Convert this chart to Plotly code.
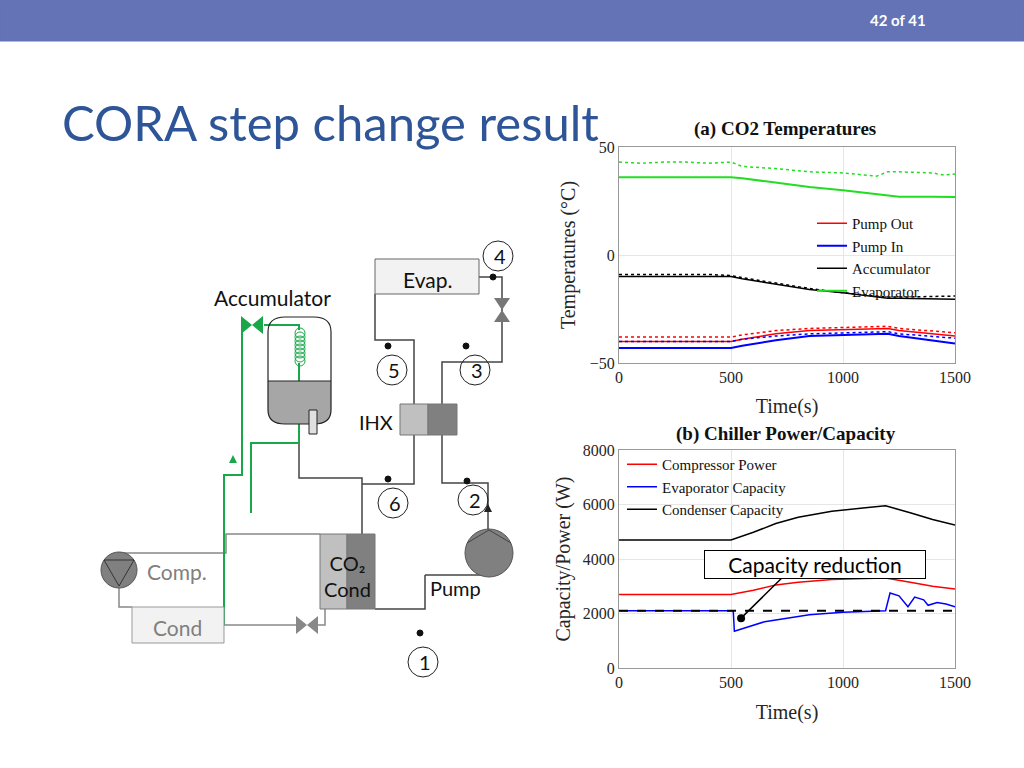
import plotly.graph_objects as go

W, H = 1024, 768

# ---- data ----
t_a = [0, 100, 200, 300, 400, 500, 550, 700, 850, 1000, 1150, 1200, 1250, 1400, 1450, 1500]
evap_sim = [36, 36, 36, 36, 36, 36, 35.5, 33.5, 31.5, 30, 28, 27.5, 27, 27, 27, 26.8]
evap_exp = [43, 42.5, 43, 43, 42.5, 43, 41, 40, 38.5, 38, 36.5, 38.5, 38.5, 38, 37, 37.5]
acc_sim = [-10, -10, -10, -10, -10, -10, -11, -13.5, -16, -17.5, -19.5, -20, -20, -20.3, -20.3, -20.5]
acc_exp = [-9, -9, -9, -9, -9, -9.5, -10.5, -13, -15.5, -17.5, -19, -19.5, -19.5, -19.2, -19, -19]
pout_sim = [-40, -40, -40, -40, -40, -40, -39, -36.5, -35, -34.5, -34, -34, -35, -36.5, -37, -37.5]
pout_exp = [-38, -38, -38, -38, -38, -38, -37, -35, -34, -33.5, -33, -33, -34, -35, -35.5, -36]
pin_sim = [-43, -43, -43, -43, -43, -43, -42, -39.5, -37.5, -37, -36.5, -36.5, -37.5, -39.5, -40, -41]
pin_exp = [-40, -40, -40, -40, -40, -40, -39, -37.5, -36.5, -36, -35.5, -35.5, -36.5, -37.5, -38, -38.5]

t_b = [0, 500, 600, 700, 800, 950, 1100, 1190, 1300, 1400, 1500]
cond_cap = [4700, 4700, 4980, 5300, 5530, 5750, 5880, 5950, 5700, 5450, 5250]
comp_pow = [2700, 2700, 2850, 3050, 3150, 3250, 3280, 3300, 3150, 3000, 2900]
t_e = [0, 510, 515, 650, 850, 1000, 1190, 1210, 1250, 1290, 1320, 1360, 1380, 1420, 1460, 1500]
evap_cap = [2100, 2100, 1350, 1700, 1950, 2050, 2100, 2750, 2650, 2250, 2600, 2500, 2300, 2400, 2350, 2250]
ref_cap = [2100, 2100]
t_ref = [0, 1500]

fig = go.Figure()

# (a) temperatures
fig.add_trace(go.Scatter(x=t_a, y=pout_sim, name='Pump Out', mode='lines', line=dict(color='red', width=1.5)))
fig.add_trace(go.Scatter(x=t_a, y=pin_sim, name='Pump In', mode='lines', line=dict(color='blue', width=2)))
fig.add_trace(go.Scatter(x=t_a, y=acc_sim, name='Accumulator', mode='lines', line=dict(color='black', width=1.5)))
fig.add_trace(go.Scatter(x=t_a, y=evap_sim, name='Evaporator', mode='lines', line=dict(color='#22dd22', width=2)))
for ys, c in [(pout_exp, 'red'), (pin_exp, 'blue'), (acc_exp, 'black'), (evap_exp, '#22dd22')]:
    fig.add_trace(go.Scatter(x=t_a, y=ys, showlegend=False, mode='lines',
                             line=dict(color=c, width=1.5, dash='dot')))

# (b) power / capacity
fig.add_trace(go.Scatter(x=t_b, y=comp_pow, name='Compressor Power', legend='legend2', mode='lines',
                         xaxis='x2', yaxis='y2', line=dict(color='red', width=1.5)))
fig.add_trace(go.Scatter(x=t_e, y=evap_cap, name='Evaporator Capacity', legend='legend2', mode='lines',
                         xaxis='x2', yaxis='y2', line=dict(color='blue', width=1.5)))
fig.add_trace(go.Scatter(x=t_b, y=cond_cap, name='Condenser Capacity', legend='legend2', mode='lines',
                         xaxis='x2', yaxis='y2', line=dict(color='black', width=1.5)))
fig.add_trace(go.Scatter(x=t_ref, y=ref_cap, showlegend=False, xaxis='x2', yaxis='y2', mode='lines',
                         line=dict(color='black', width=2, dash='dash')))
fig.add_trace(go.Scatter(x=[545], y=[1830], mode='markers', showlegend=False, xaxis='x2', yaxis='y2',
                         marker=dict(color='black', size=8)))


def px(x):
    return x / W


def py(y):
    return 1 - y / H


serif = 'Liberation Serif'
axis_common = dict(showgrid=True, gridcolor='#e6e6e6', zeroline=False, showline=True, mirror=True,
                   linecolor='#999999', ticks='', automargin=False,
                   tickfont=dict(family=serif, size=16, color='#262626'))

shapes = []
annots = []


def line(pts, color='#444', width=1.5):
    d = 'M ' + ' L '.join(f'{px(x)},{py(y)}' for x, y in pts)
    shapes.append(dict(type='path', xref='paper', yref='paper', path=d, line=dict(color=color, width=width)))


def rect(x0, y0, x1, y1, fill, border='#777', width=1):
    shapes.append(dict(type='rect', xref='paper', yref='paper', x0=px(x0), x1=px(x1), y0=py(y1), y1=py(y0),
                       fillcolor=fill, line=dict(color=border, width=width)))


def circle(cx, cy, r, fill='rgba(0,0,0,0)', border='#222', width=1):
    shapes.append(dict(type='circle', xref='paper', yref='paper', x0=px(cx - r), x1=px(cx + r),
                       y0=py(cy + r), y1=py(cy - r), fillcolor=fill, line=dict(color=border, width=width)))


def poly(pts, fill):
    d = 'M ' + ' L '.join(f'{px(x)},{py(y)}' for x, y in pts) + ' Z'
    shapes.append(dict(type='path', xref='paper', yref='paper', path=d, fillcolor=fill, line=dict(width=0)))


def text(x, y, s, size=20, color='#111', family='Lato', **kw):
    annots.append(dict(xref='paper', yref='paper', x=px(x), y=py(y), text=s, showarrow=False,
                       xanchor=kw.pop('xanchor', 'center'), yanchor='middle',
                       font=dict(family=family, size=size, color=color), **kw))


# header bar
rect(0, 0, 1024, 41, '#6373b6', border='#6373b6')
text(898, 20, '<b>42 of 41</b>', size=15, color='white')
text(60, 122, 'CORA step change result', size=49, color='#2e5597', xanchor='left')

# black loop
line([(375, 294), (375, 340), (414, 340), (414, 404)])
line([(479, 277), (502, 277), (502, 362), (442, 362), (442, 404)])
line([(414, 435), (414, 484), (362, 484)])
line([(299, 425), (299, 478), (362, 478), (362, 534)])
line([(442, 435), (442, 483), (488, 483), (488, 530)])
line([(425, 575), (489, 575)])
line([(425, 575), (425, 609), (375, 609)])
poly([(484, 512), (492, 512), (488, 504)], '#222')
poly([(494, 298), (510, 298), (502, 310)], '#777')
poly([(494, 322), (510, 322), (502, 310)], '#777')

# gray loop
g = '#888'
line([(119, 553), (226, 553), (226, 534), (320, 534)], g)
line([(119, 588), (119, 607), (132, 607)], g)
line([(224, 625), (298, 625)], g)
line([(316, 625), (325, 625), (325, 609)], g)
poly([(296, 616), (296, 634), (307, 625)], g)
poly([(318, 616), (318, 634), (307, 625)], g)

# green loop
gr = '#1aa74a'
line([(299, 363), (299, 443), (251, 443), (251, 513)], gr, 2)
line([(299, 330), (299, 325), (264, 325)], gr, 2)
line([(242, 325), (242, 475), (224, 475), (224, 625)], gr, 2)
poly([(241, 316), (241, 334), (252, 325)], gr)
poly([(263, 316), (263, 334), (252, 325)], gr)
poly([(229, 463), (237, 463), (233, 455)], gr)
for k in range(8):
    circle(300, 333 + 4 * k, 5, border=gr, width=1)

# accumulator vessel
shapes.append(dict(type='path', xref='paper', yref='paper',
                   path=f'M {px(268)},{py(381)} L {px(268)},{py(410)} Q {px(268)},{py(424)} {px(285)},{py(424)} '
                        f'L {px(314)},{py(424)} Q {px(331)},{py(424)} {px(331)},{py(410)} L {px(331)},{py(381)} Z',
                   fillcolor='#a6a6a6', line=dict(width=0)))
shapes.append(dict(type='path', xref='paper', yref='paper',
                   path=f'M {px(268)},{py(410)} L {px(268)},{py(332)} Q {px(268)},{py(317)} {px(285)},{py(317)} '
                        f'L {px(314)},{py(317)} Q {px(331)},{py(317)} {px(331)},{py(332)} L {px(331)},{py(410)} '
                        f'Q {px(331)},{py(424)} {px(314)},{py(424)} L {px(285)},{py(424)} Q {px(268)},{py(424)} {px(268)},{py(410)} Z',
                   line=dict(color='#222', width=1.2)))
line([(268, 381), (331, 381)], '#222', 1)
rect(309, 410, 317, 434, '#e0e0e0', '#222')

# boxes
rect(375, 259, 479, 294, '#f2f2f2', '#666')
rect(400, 404, 428, 435, '#c0c0c0', '#777')
rect(428, 404, 457, 435, '#808080', '#777')
rect(320, 534, 347, 609, '#c0c0c0', '#777')
rect(347, 534, 375, 609, '#808080', '#777')
rect(132, 607, 224, 643, '#f2f2f2', '#999')
circle(489, 553, 24, '#808080', '#555')
line([(467, 543), (489, 530), (511, 543)], '#444', 1)
circle(119, 570, 18, '#808080', '#555')
line([(104, 560), (119, 586), (134, 560), (104, 560)], '#333', 1)

# numbered points
for n, cx, cy, dx, dy in [(4, 498, 256, 493, 277), (5, 392, 370, 388, 346), (3, 475, 370, 466, 346),
                          (6, 393, 503, 388, 479), (2, 473, 500, 467, 481), (1, 423, 662, 420, 633)]:
    circle(cx, cy, 15)
    circle(dx, dy, 3, '#111', '#111')
    text(cx + 2, cy, str(n), size=20)

text(427, 279, 'Evap.', size=21)
text(272, 297, 'Accumulator', size=21)
text(376, 422, 'IHX', size=20)
text(347, 576, 'CO₂<br>Cond', size=20)
text(455, 588, 'Pump', size=20)
text(177, 571, 'Comp.', size=21, color='#808080')
text(177, 627, 'Cond', size=21, color='#808080')

# chart titles
text(785, 129, '<b>(a) CO2 Temperatures</b>', size=19, family=serif)
text(786, 434, '<b>(b) Chiller Power/Capacity</b>', size=19, family=serif)

annots.append(dict(xref='x2', yref='y2', x=545, y=1830, ax=795, ay=3850, axref='x2', ayref='y2',
                   text='', showarrow=True, arrowhead=0, arrowwidth=1.5, arrowcolor='black'))
annots.append(dict(xref='paper', yref='paper', x=px(815), y=py(564), text='Capacity reduction',
                   xanchor='center', yanchor='middle',
                   showarrow=False, font=dict(family='Lato', size=21, color='black'), width=218,
                   bgcolor='white', bordercolor='black', borderwidth=1, borderpad=1))

title_font = dict(family=serif, size=20, color='#262626')
fig.update_layout(
    width=W, height=H, margin=dict(l=0, r=0, t=0, b=0, autoexpand=False),
    paper_bgcolor='white', plot_bgcolor='white',
    shapes=shapes, annotations=annots,
    xaxis=dict(domain=[px(619), px(955)], range=[0, 1500], tickvals=[0, 500, 1000, 1500],
               anchor='y', title=dict(text='Time(s)', font=title_font, standoff=13), **axis_common),
    yaxis=dict(domain=[py(363), py(147)], range=[-50, 50], tickvals=[-50, 0, 50], anchor='x',
               title=dict(text='Temperatures (°C)', font=title_font, standoff=8), **axis_common),
    xaxis2=dict(domain=[px(619), px(955)], range=[0, 1500], tickvals=[0, 500, 1000, 1500],
                anchor='y2', title=dict(text='Time(s)', font=title_font, standoff=14), **axis_common),
    yaxis2=dict(domain=[py(668), py(450)], range=[0, 8000], tickvals=[0, 2000, 4000, 6000, 8000], anchor='x2',
                title=dict(text='Capacity/Power (W)', font=title_font, standoff=6), **axis_common),
    legend=dict(x=px(812), y=py(207), xanchor='left', yanchor='top', bgcolor='rgba(0,0,0,0)',
                font=dict(family=serif, size=15, color='#111'), tracegroupgap=0, itemwidth=30),
    legend2=dict(x=px(622), y=py(448), xanchor='left', yanchor='top', bgcolor='rgba(0,0,0,0)',
                 font=dict(family=serif, size=15, color='#111'), tracegroupgap=0, itemwidth=30),
)

fig.write_html('out.html', post_script="document.body.style.margin='0';",
               config={'displayModeBar': False})
